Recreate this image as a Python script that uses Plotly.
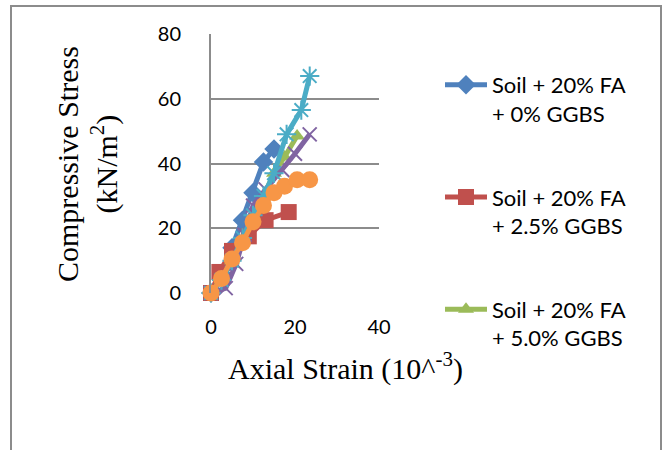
import plotly.graph_objects as go

# ---- data ----
blue_x = [0, 2.5, 5, 7.5, 10, 12.5, 15]
blue_y = [0, 6, 14, 22.5, 31, 40.5, 44.5]

red_x = [0, 2, 5, 9, 13, 18.5]
red_y = [0, 6.5, 13, 17.5, 22.5, 25]

green_x = [0, 2.5, 5, 7.5, 10, 12.5, 15, 17.5, 20.5]
green_y = [0, 4, 10, 16, 23, 30, 37, 42, 48.5]

purple_x = [0, 3.5, 6, 8, 10, 13, 17, 20, 23.5]
purple_y = [0, 1.5, 9, 18, 27, 32, 38, 43, 49]

cyan_x = [0, 2.5, 5, 7.5, 10, 12.5, 15, 18, 21.5, 23.5]
cyan_y = [0, 4, 10, 17, 24, 30, 37, 49, 56.5, 67]

orange_x = [0, 2.5, 5, 7.5, 10, 12.5, 15, 17.5, 20.5, 23.5]
orange_y = [0, 4.5, 10.5, 15.5, 22, 27, 31, 33, 35, 35]

legend_names = ["Soil + 20% FA<br>+ 0% GGBS",
                "Soil + 20% FA<br>+ 2.5% GGBS",
                "Soil + 20% FA<br>+ 5.0% GGBS",
                "Soil + 20% FA<br>+ 7.5% GGBS",
                "Soil + 20% FA<br>+ 10% GGBS",
                "Soil + 20% FA<br>+ 12.5% GGBS"]

x_ticks = [0, 20, 40]
y_ticks = [0, 20, 40, 60, 80]

# ---- figure ----
W, H = 666, 450
L, R, T, B = 211, 287, 34, 157
pw = W - L - R
ph = H - T - B

fig = go.Figure()

series = [
    (blue_x, blue_y, "#4F81BD", "diamond", 15, True, None),
    (red_x, red_y, "#C0504D", "square", 16, True, None),
    (green_x, green_y, "#9BBB59", "triangle-up", 14, True, None),
    (purple_x, purple_y, "#8064A2", "x-thin-open", 14, False, 2),
    (cyan_x, cyan_y, "#4BACC6", "asterisk-open", 16, False, 2),
    (orange_x, orange_y, "#F79646", "circle", 17, False, None),
]
for i, (xs, ys, col, sym, sz, show, lw) in enumerate(series):
    marker = dict(symbol=sym, size=sz, color=col)
    if lw:
        marker["line"] = dict(color=col, width=lw)
    fig.add_trace(go.Scatter(
        x=xs, y=ys, mode="lines+markers", name=legend_names[i],
        line=dict(color=col, width=5), marker=marker,
        showlegend=show, legendgroup=f"g{i}", cliponaxis=False))

tick_font = dict(family="Lato, Open Sans, sans-serif", size=20, color="#000000")

fig.update_xaxes(range=[0, 40], tickvals=x_ticks, showgrid=False, zeroline=False,
                 showline=False, ticks="", tickfont=tick_font, ticklabelstandoff=20)
fig.update_yaxes(range=[0, 80], tickvals=y_ticks, showgrid=True, gridcolor="#8c8c8c",
                 gridwidth=2, zeroline=False, showline=True, linecolor="#8c8c8c",
                 linewidth=2, ticks="", tickfont=tick_font, ticklabelstandoff=24)

def px2x(px):
    return (px - L) / pw

def px2y(py):
    return (H - B - py) / ph

# outer border
fig.add_shape(type="rect", xref="paper", yref="paper",
              x0=px2x(11), x1=px2x(661), y0=px2y(460), y1=px2y(6),
              line=dict(color="#8c8c8c", width=2), fillcolor="rgba(0,0,0,0)", layer="below")

title_font = dict(family="Liberation Serif, Times New Roman, serif", size=30, color="#000000")
fig.add_annotation(text="Axial Strain (10^<sup>-3</sup>)", xref="paper", yref="paper",
                   x=px2x(345), y=px2y(366), showarrow=False, font=title_font,
                   xanchor="center", yanchor="middle")
fig.add_annotation(text="Compressive Stress<br>(kN/m<sup>2</sup>)", xref="paper", yref="paper",
                   x=px2x(87), y=px2y(164), showarrow=False, font=title_font, textangle=-90,
                   xanchor="center", yanchor="middle")

fig.update_layout(
    width=W, height=H, margin=dict(l=L, r=R, t=T, b=B, autoexpand=False),
    paper_bgcolor="white", plot_bgcolor="white",
    legend=dict(x=px2x(440), y=px2y(64), xanchor="left", yanchor="top",
                font=dict(family="Lato, Open Sans, sans-serif", size=22, color="#000000"),
                tracegroupgap=52, valign="top", bgcolor="rgba(0,0,0,0)",
                itemwidth=42, maxheight=400),
)

fig.write_html("out.html")
